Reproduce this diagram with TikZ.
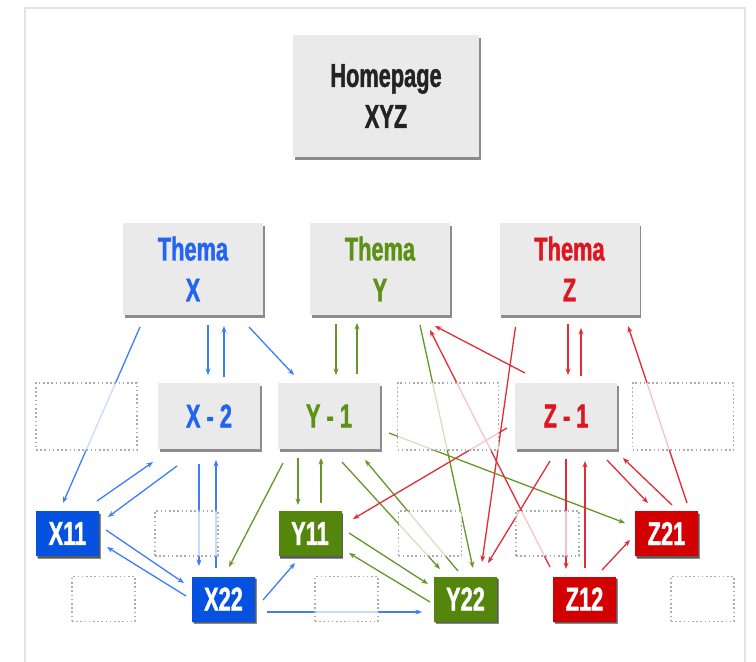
\documentclass[tikz,border=0pt]{standalone}
\usepackage{fontspec}
\usepackage{tikz}
\usetikzlibrary{calc,shadows,arrows.meta}
\newfontfamily\lblfont{Liberation Sans}[FakeStretch=0.66, FakeBold=1.2]
\definecolor{boxgray}{RGB}{234,234,234}
\definecolor{homeink}{RGB}{35,35,35}
\definecolor{xfill}{RGB}{5,82,224}
\definecolor{xink}{RGB}{35,100,240}
\definecolor{xline}{RGB}{60,125,250}
\definecolor{yfill}{RGB}{84,134,14}
\definecolor{yink}{RGB}{92,145,22}
\definecolor{yline}{RGB}{100,150,40}
\definecolor{zfill}{RGB}{210,0,0}
\definecolor{zink}{RGB}{222,22,32}
\definecolor{zline}{RGB}{226,45,55}
\begin{document}
\begin{tikzpicture}[x=1pt, y=-1pt,
    shade box/.style={fill=boxgray, inner sep=0pt, align=center,
      drop shadow={shadow xshift=1.8pt, shadow yshift=-2.8pt, fill=black, opacity=.45},
      font=\lblfont\bfseries\fontsize{33}{41}\selectfont},
    homebox/.style={shade box, minimum width=186pt, minimum height=122pt, text=homeink},
    topic/.style={shade box, minimum width=140pt, minimum height=92pt},
    subtopic/.style={shade box, minimum width=102pt, minimum height=66pt},
    leaf/.style={shade box, minimum width=63pt, minimum height=45pt, text=white,
      drop shadow={shadow xshift=1.2pt, shadow yshift=-1.6pt, fill=black, opacity=.35}},
    slot/.style={draw=gray!65, dash pattern=on 1.6pt off 2.6pt, line width=1.5pt,
      fill=white, fill opacity=.72, inner sep=0pt},
    bigslot/.style={slot, minimum width=101pt, minimum height=67pt},
    smallslot/.style={slot, minimum width=63pt, minimum height=45pt},
    link/.style={line width=1.3pt, -{Stealth[length=6.5pt, width=5pt]}},
    xlink/.style={link, draw=xline},
    ylink/.style={link, draw=yline},
    zlink/.style={link, draw=zline}]
  \useasboundingbox (0,0) rectangle (756,662);
  \draw [gray!22, line width=1.5pt] (25,662) -- (25,8) -- (745,8) -- (745,662);

  \node [homebox] (home) at (386,96) {Homepage\\XYZ};

  \node [topic, text=xink] (thx) at (193,269) {Thema\\X};
  \node [topic, text=yink] (thy) at (380,269) {Thema\\Y};
  \node [topic, text=zink] (thz) at (569.5,269) {Thema\\Z};

  \node [subtopic, text=xink] (x2) at (209,416) {X - 2};
  \node [subtopic, text=yink] (y1) at (329,416) {Y - 1};
  \node [subtopic, text=zink] (z1) at (566,416) {Z - 1};

  \node [leaf, fill=xfill] (x11) at (67.5,533.5) {X11};
  \node [leaf, fill=yfill] (y11) at (310,533.5) {Y11};
  \node [leaf, fill=zfill] (z21) at (666.5,533.5) {Z21};
  \node [leaf, fill=xfill] (x22) at (223.5,599) {X22};
  \node [leaf, fill=yfill] (y22) at (465.5,599) {Y22};
  \node [leaf, fill=zfill] (z12) at (584.5,599) {Z12};

  \draw [xlink] ($(thx)+(-53,58)$) -- ($(x11)+(-4.5,-30.5)$);
  \draw [xlink] ($(thx)+(15,56)$) -- ($(x2)+(-1,-41)$);
  \draw [xlink] ($(x2)+(15,-39)$) -- ($(thx)+(31,57)$);
  \draw [xlink] ($(thx)+(56,58)$) -- ($(y1)+(-35,-41)$);
  \draw [xlink] ($(x11)+(29.5,-32.5)$) -- ($(x2)+(-56,46)$);
  \draw [xlink] ($(x2)+(-32,50)$) -- ($(x11)+(40.5,-16.5)$);
  \draw [xlink] ($(x2)+(-10,48)$) -- ($(x22)+(-24.5,-33)$);
  \draw [xlink] ($(x22)+(-7.5,-31)$) -- ($(x2)+(7,44)$);
  \draw [xlink] ($(x11)+(38.5,-3.5)$) -- ($(x22)+(-39.5,-16)$);
  \draw [xlink] ($(x22)+(-37.5,-3)$) -- ($(x11)+(39.5,13.5)$);
  \draw [xlink] ($(x22)+(39.5,1)$) -- ($(y11)+(-15,29.5)$);
  \draw [xlink] ($(x22)+(43.5,13)$) -- ($(y22)+(-43.5,13)$);

  \draw [ylink] ($(thy)+(-44,55)$) -- ($(y1)+(7,-41)$);
  \draw [ylink] ($(y1)+(28,-42)$) -- ($(thy)+(-23,54)$);
  \draw [ylink] ($(y1)+(-46,47)$) -- ($(x22)+(5.5,-32)$);
  \draw [ylink] ($(y1)+(-31,42)$) -- ($(y11)+(-12,-28.5)$);
  \draw [ylink] ($(y11)+(11,-30.5)$) -- ($(y1)+(-8,42)$);
  \draw [ylink] ($(y1)+(13,46)$) -- ($(y22)+(-25.5,-30)$);
  \draw [ylink] ($(y22)+(-7.5,-28)$) -- ($(y1)+(36,44)$);
  \draw [ylink] ($(thy)+(40,56)$) -- ($(y22)+(7.5,-31)$);
  \draw [ylink] ($(y11)+(39,-0.5)$) -- ($(y22)+(-37.5,-15)$);
  \draw [ylink] ($(y22)+(-35.5,3)$) -- ($(y11)+(39,19.5)$);
  \draw [ylink] ($(y1)+(60,17)$) -- ($(z21)+(-41.5,-10.5)$);

  \draw [zlink] ($(z1)+(-41,-43)$) -- ($(thy)+(55,57)$);
  \draw [zlink] ($(z12)+(-34.5,-32)$) -- ($(thy)+(50,61)$);
  \draw [zlink] ($(thz)+(-54,58)$) -- ($(y22)+(16.5,-37)$);
  \draw [zlink] ($(z1)+(-16,45)$) -- ($(y22)+(22.5,-36)$);
  \draw [zlink] ($(thz)+(-1.5,55)$) -- ($(z1)+(2,-41)$);
  \draw [zlink] ($(z1)+(15,-40)$) -- ($(thz)+(11.5,59)$);
  \draw [zlink] ($(z1)+(-59,12)$) -- ($(y11)+(43,-14.5)$);
  \draw [zlink] ($(z1)+(0,43)$) -- ($(z12)+(-18.5,-30)$);
  \draw [zlink] ($(z12)+(0.5,-31)$) -- ($(z1)+(19,45)$);
  \draw [zlink] ($(z1)+(41,44)$) -- ($(z21)+(-18.5,-30.5)$);
  \draw [zlink] ($(z21)+(5.5,-28.5)$) -- ($(z1)+(57,42)$);
  \draw [zlink] ($(z12)+(17.5,-29)$) -- ($(z21)+(-36.5,6.5)$);
  \draw [zlink] ($(z21)+(20.5,-30.5)$) -- ($(thz)+(58.5,57)$);

  \node [bigslot] (slotxa) at (86.5,416.5) {};
  \node [bigslot] (slotya) at (448,416.5) {};
  \node [bigslot] (slotza) at (683,416.5) {};
  \node [smallslot] (slotxb) at (186.5,533.5) {};
  \node [smallslot] (slotyb) at (430,533.5) {};
  \node [smallslot] (slotzb) at (547.5,533.5) {};
  \node [smallslot] (slotxc) at (103.5,599) {};
  \node [smallslot] (slotyc) at (346.5,599) {};
  \node [smallslot] (slotzc) at (702.5,599) {};
\end{tikzpicture}
\end{document}
